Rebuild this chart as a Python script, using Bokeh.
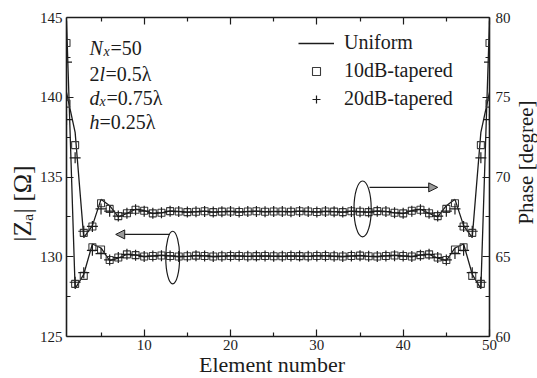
from math import pi

from bokeh.plotting import figure
from bokeh.models import (Range1d, LinearAxis, FixedTicker, Label, Arrow,
                          NormalHead, Legend, LegendItem)
from bokeh.embed import file_html
from bokeh.resources import INLINE

# ---------------------------------------------------------------- data
element = list(range(1, 51))

# |Za| in ohms (left axis)
mag_uniform = [144.8, 128.0, 128.9, 130.8, 130.55, 129.75, 129.92, 130.15, 130.12, 130.0,
               130.05, 130.1, 130.05, 130.0, 130.02, 130.08, 130.05, 130.0, 130.03, 130.06,
               130.05, 130.02, 130.04, 130.05, 130.03, 130.03, 130.05, 130.04, 130.02, 130.05,
               130.06, 130.03, 130.0, 130.05, 130.08, 130.02, 130.0, 130.05, 130.1, 130.05,
               130.0, 130.12, 130.15, 129.92, 129.75, 130.55, 130.8, 128.9, 128.0, 144.8]
mag_10db = [143.4, 128.3, 128.8, 130.6, 130.45, 129.8, 129.95, 130.15, 130.1, 130.02,
            130.05, 130.08, 130.05, 130.02, 130.03, 130.07, 130.05, 130.02, 130.03, 130.05,
            130.05, 130.03, 130.04, 130.05, 130.03, 130.03, 130.05, 130.04, 130.03, 130.05,
            130.05, 130.03, 130.02, 130.05, 130.07, 130.03, 130.02, 130.05, 130.08, 130.05,
            130.02, 130.1, 130.15, 129.95, 129.8, 130.45, 130.6, 128.8, 128.3, 143.4]
mag_20db = [142.2, 128.4, 129.0, 130.4, 130.2, 129.8, 129.95, 130.15, 130.1, 130.02,
            130.04, 130.07, 130.05, 130.02, 130.03, 130.06, 130.05, 130.02, 130.03, 130.05,
            130.04, 130.03, 130.04, 130.04, 130.03, 130.03, 130.04, 130.04, 130.03, 130.05,
            130.05, 130.03, 130.02, 130.04, 130.06, 130.03, 130.02, 130.05, 130.07, 130.04,
            130.02, 130.1, 130.15, 129.95, 129.8, 130.2, 130.4, 129.0, 128.4, 142.2]

# phase in degrees (right axis)
phase_uniform = [75.3, 72.8, 66.2, 66.95, 68.6, 68.2, 67.5, 67.72, 67.98, 67.9,
                 67.7, 67.75, 67.88, 67.85, 67.8, 67.82, 67.86, 67.8, 67.83, 67.85,
                 67.8, 67.84, 67.86, 67.82, 67.84, 67.84, 67.82, 67.86, 67.84, 67.8,
                 67.85, 67.83, 67.8, 67.86, 67.82, 67.8, 67.88, 67.85, 67.75, 67.7,
                 67.9, 67.98, 67.72, 67.5, 68.2, 68.6, 66.95, 66.2, 72.8, 75.3]
phase_10db = [74.6, 72.0, 66.5, 66.9, 68.35, 68.0, 67.55, 67.73, 67.95, 67.88,
              67.72, 67.76, 67.86, 67.84, 67.8, 67.82, 67.85, 67.8, 67.83, 67.84,
              67.81, 67.84, 67.85, 67.82, 67.84, 67.84, 67.82, 67.85, 67.84, 67.81,
              67.84, 67.83, 67.8, 67.85, 67.82, 67.8, 67.86, 67.84, 67.76, 67.72,
              67.88, 67.95, 67.73, 67.55, 68.0, 68.35, 66.9, 66.5, 72.0, 74.6]
phase_20db = [73.6, 71.2, 66.6, 66.9, 68.0, 67.86, 67.55, 67.73, 67.95, 67.86,
              67.73, 67.76, 67.85, 67.83, 67.8, 67.82, 67.84, 67.8, 67.82, 67.84,
              67.81, 67.83, 67.84, 67.82, 67.83, 67.83, 67.82, 67.84, 67.83, 67.81,
              67.84, 67.82, 67.8, 67.84, 67.82, 67.8, 67.85, 67.83, 67.76, 67.73,
              67.86, 67.95, 67.73, 67.55, 67.86, 68.0, 66.9, 66.6, 71.2, 73.6]

x_ticks = [10, 20, 30, 40, 50]
x_minor = [5, 15, 25, 35, 45]
mag_ticks = [125, 130, 135, 140, 145]
mag_minor = [127.5, 132.5, 137.5, 142.5]
phase_ticks = [60, 65, 70, 75, 80]
phase_minor = [62.5, 67.5, 72.5, 77.5]
legend_labels = ["Uniform", "10dB-tapered", "20dB-tapered"]
x_title = "Element number"
mag_title = "|Zₐ| [Ω]"
phase_title = "Phase [degree]"

# ---------------------------------------------------------------- layout
FONT = "Times New Roman"
INK = "#1c1c1c"
W, H = 537, 378
FL, FR, FT, FB = 66, 490, 17, 336          # plot frame edges in canvas pixels
X0, X1, Y0, Y1 = 1, 50, 125, 145


def dx(px):
    return X0 + (px - FL) * (X1 - X0) / (FR - FL)


def dy(py):
    return Y1 - (py - FT) * (Y1 - Y0) / (FB - FT)


p = figure(width=W, height=H, x_range=Range1d(X0, X1), y_range=Range1d(Y0, Y1),
           output_backend="svg", toolbar_location=None,
           min_border_left=FL, min_border_right=W - FR,
           min_border_top=FT, min_border_bottom=H - FB)
p.extra_y_ranges = {"phase": Range1d(60, 80)}
p.xgrid.visible = False
p.ygrid.visible = False
p.outline_line_color = None
p.background_fill_color = "white"
p.border_fill_color = "white"


def style_axis(ax, labels=True):
    ax.axis_line_color = INK
    ax.axis_line_width = 1.6
    ax.major_tick_in = 7
    ax.major_tick_out = 0
    ax.minor_tick_in = 4
    ax.minor_tick_out = 0
    ax.major_tick_line_color = INK
    ax.minor_tick_line_color = INK
    ax.major_tick_line_width = 1.2
    ax.minor_tick_line_width = 1.2
    ax.major_label_text_font = FONT
    ax.major_label_text_color = INK
    ax.major_label_text_font_size = "15px" if labels else "1px"
    ax.major_label_standoff = 4 if labels else 0
    ax.axis_label_text_font = FONT
    ax.axis_label_text_font_style = "normal"
    ax.axis_label_text_color = INK
    ax.axis_label_standoff = 0
    if not labels:
        ax.major_label_text_alpha = 0


p.xaxis.ticker = FixedTicker(ticks=x_ticks, minor_ticks=x_minor)
p.yaxis.ticker = FixedTicker(ticks=mag_ticks, minor_ticks=mag_minor)
style_axis(p.xaxis[0])
style_axis(p.yaxis[0])
p.xaxis.major_label_standoff = 3

top_axis = LinearAxis(ticker=FixedTicker(ticks=x_ticks, minor_ticks=x_minor))
style_axis(top_axis, labels=False)
p.add_layout(top_axis, "above")

right_axis = LinearAxis(y_range_name="phase",
                        ticker=FixedTicker(ticks=phase_ticks, minor_ticks=phase_minor))
style_axis(right_axis)
right_axis.major_label_standoff = 6
p.add_layout(right_axis, "right")

# axis titles, living in the side panels so they are not clipped by the frame
p.add_layout(Label(x=dx(272), y=dy(364), text=x_title,
                   text_font=FONT, text_font_size="22px", text_color=INK,
                   text_align="center", text_baseline="middle"), "below")
p.add_layout(Label(x=dx(22), y=dy(203), text=mag_title, angle=pi / 2,
                   text_font=FONT, text_font_size="26px", text_color=INK,
                   text_align="center", text_baseline="middle"), "left")
p.add_layout(Label(x=dx(527), y=dy(162), text=phase_title, angle=pi / 2,
                   text_font=FONT, text_font_size="21px", text_color=INK,
                   text_align="center", text_baseline="middle"), "right")

# ---------------------------------------------------------------- curves
r_uni = p.line(element, mag_uniform, line_color=INK, line_width=1.3)
p.line(element, phase_uniform, y_range_name="phase", line_color=INK, line_width=1.3)

r_sq = p.scatter(element, mag_10db, marker="square", size=7, fill_color=None,
                 line_color="#3a3a3a", line_width=1.1)
p.scatter(element, phase_10db, y_range_name="phase", marker="square", size=7,
          fill_color=None, line_color="#3a3a3a", line_width=1.1)

r_plus = p.scatter(element, mag_20db, marker="cross", size=11, line_color=INK,
                   line_width=1.2)
p.scatter(element, phase_20db, y_range_name="phase", marker="cross", size=11,
          line_color=INK, line_width=1.2)

legend = Legend(items=[LegendItem(label=legend_labels[0], renderers=[r_uni]),
                       LegendItem(label=legend_labels[1], renderers=[r_sq]),
                       LegendItem(label=legend_labels[2], renderers=[r_plus])],
                location=(232, 226), orientation="vertical",
                label_text_font=FONT, label_text_font_size="20px",
                label_text_color=INK, glyph_width=36, glyph_height=20,
                label_height=20, label_standoff=10, spacing=5, padding=0,
                margin=0, border_line_color=None, background_fill_alpha=0)
p.add_layout(legend)

# ---------------------------------------------------------------- ellipses & arrows
p.ellipse(x=[13.3], y=[129.95], width=1.6, height=3.3, fill_color=None,
          line_color=INK, line_width=1.2)
p.ellipse(x=[35.3], y=[133.0], width=2.0, height=3.5, fill_color=None,
          line_color=INK, line_width=1.2)

head = dict(size=9, fill_color="#9a9a9a", line_color=INK, line_width=1)
p.add_layout(Arrow(end=NormalHead(**head), x_start=12.95, y_start=131.4,
                   x_end=6.7, y_end=131.4, line_color=INK, line_width=1.2))
p.add_layout(Arrow(end=NormalHead(**head), x_start=36.1, y_start=134.35,
                   x_end=44.0, y_end=134.35, line_color=INK, line_width=1.2))


# ---------------------------------------------------------------- parameter block
def put(text, px, py, size=20, style="normal"):
    p.add_layout(Label(x=dx(px), y=dy(py), text=text, text_font=FONT,
                       text_font_size=f"{size}px", text_font_style=style,
                       text_color=INK, text_baseline="alphabetic",
                       text_align="left"))


put("N", 89, 47, style="italic")
put("x", 103, 51, size=14, style="italic")
put("=50", 110, 47)
put("2", 89, 73)
put("l", 99, 73, style="italic")
put("=0.5λ", 105, 73)
put("d", 89, 97, style="italic")
put("x", 99, 101, size=14, style="italic")
put("=0.75λ", 106, 97)
put("h", 89, 121, style="italic")
put("=0.25λ", 99, 121)

open("out.html", "w").write(file_html(p, INLINE))
